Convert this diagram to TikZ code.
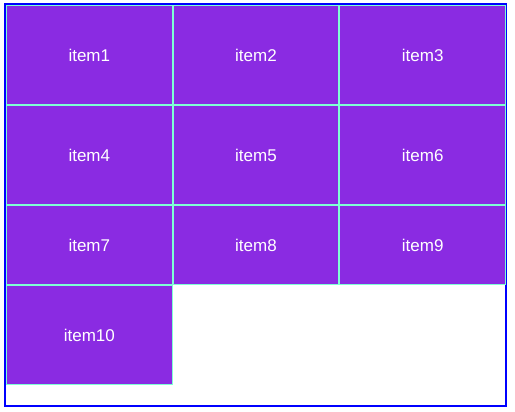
\documentclass[tikz,border=0pt]{standalone}
\usepackage{fontspec}
\setmainfont{Liberation Sans}
\definecolor{gridborder}{HTML}{0000FF}
\definecolor{cellline}{HTML}{7FFFD4}
\definecolor{cellfill}{HTML}{8A2BE2}
\begin{document}
\begin{tikzpicture}[x=1pt,y=-1pt,line join=miter]
	\tikzset{cell/.style={draw=cellline,fill=cellfill,line width=1pt,
			rectangle,inner sep=0pt,minimum width=165.67pt,
			text=white,font=\fontsize{17}{20}\selectfont}}
	\useasboundingbox (0,0) rectangle (515,412);
	%------------khung ngoai
	\draw[gridborder,line width=2pt] (5,4) rectangle (506,406);
	%------------hang 1, 2
	\foreach \r/\top in {0/5,1/105}{
		\foreach \c in {0,1,2}{
			\pgfmathtruncatemacro\k{3*\r+\c+1}
			\node[cell,minimum height=99pt] (item\k) at (89.33+166.67*\c,\top+50) {item\k};
		}
	}
	%------------hang 3
	\foreach \c in {0,1,2}{
		\pgfmathtruncatemacro\k{7+\c}
		\node[cell,minimum height=79pt] (item\k) at (89.33+166.67*\c,245) {item\k};
	}
	%------------hang 4
	\node[cell,minimum height=99pt] (item10) at (89.33,335) {item10};
\end{tikzpicture}
\end{document}
